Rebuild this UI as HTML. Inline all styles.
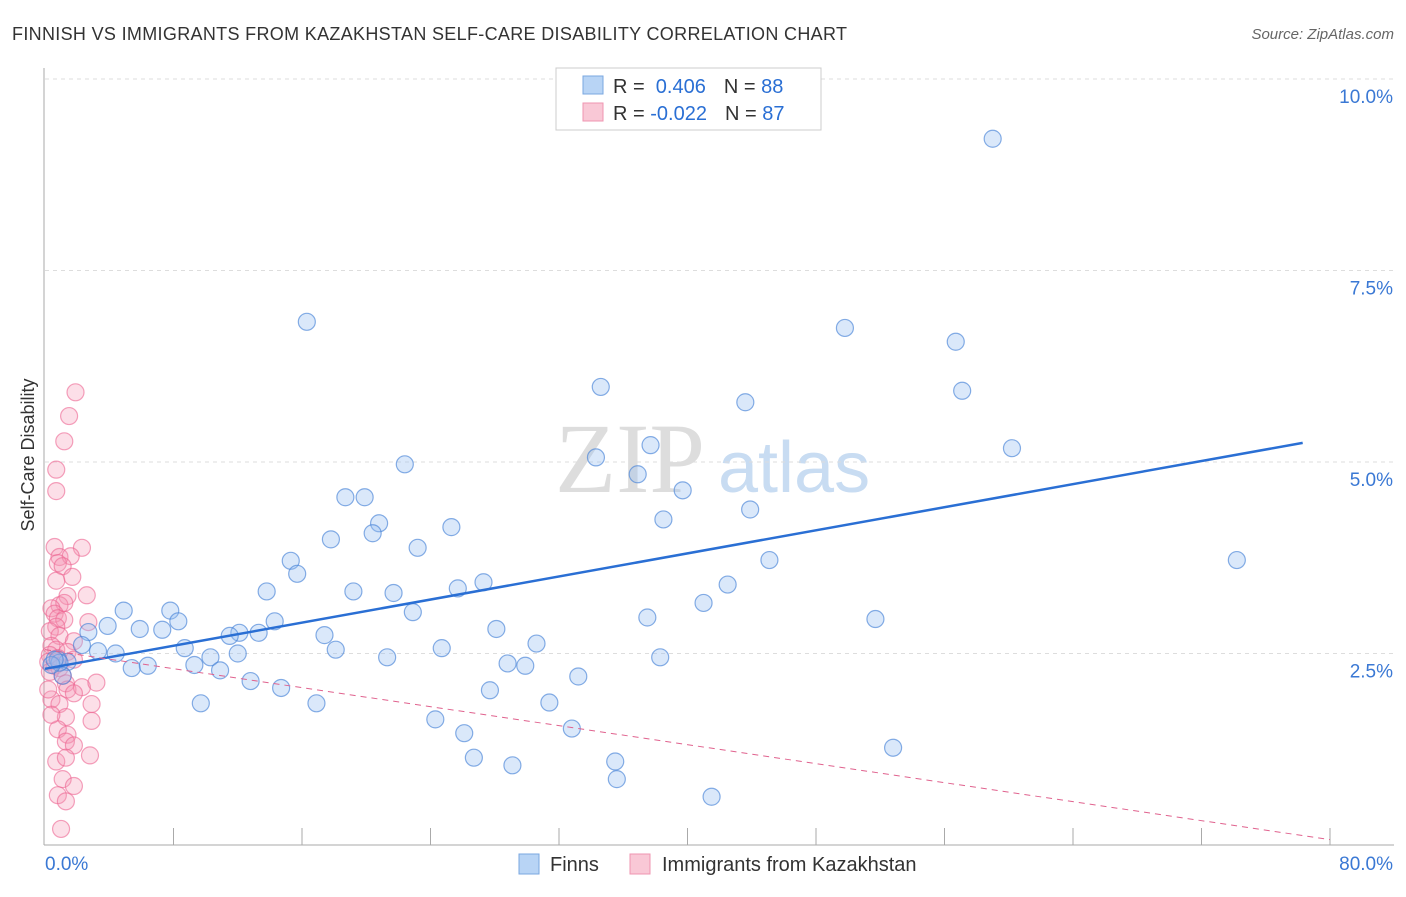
<!DOCTYPE html>
<html><head><meta charset="utf-8"><style>
body{margin:0;background:#fff;font-family:"Liberation Sans",sans-serif;}
</style></head><body>
<svg id="c" width="1406" height="892" xmlns="http://www.w3.org/2000/svg" style="font-family:'Liberation Sans',sans-serif">
<text x="12" y="40" font-size="18" fill="#333" textLength="835" lengthAdjust="spacing">FINNISH VS IMMIGRANTS FROM KAZAKHSTAN SELF-CARE DISABILITY CORRELATION CHART</text>
<text x="1394" y="39" font-size="15" fill="#666" font-style="italic" text-anchor="end">Source: ZipAtlas.com</text>
<text x="34" y="455" font-size="18" fill="#333" text-anchor="middle" transform="rotate(-90 34 455)">Self-Care Disability</text>
<g><text x="555" y="492" font-size="100" fill="#ddd" font-family="Liberation Serif">ZIP</text><text x="718" y="492" font-size="72" fill="#c8dcf2">atlas</text></g>
<g id="grid"></g><g id="axes"></g><g id="pts"></g><g id="trend"></g>
<g>
<rect x="556" y="68" width="265" height="62" fill="#fff" stroke="#ccc"/>
<rect x="583" y="76" width="20" height="18" fill="#b8d4f5" stroke="#7aa7e0"/>
<rect x="583" y="103" width="20" height="18" fill="#f9c8d6" stroke="#ef95b0"/>
<text x="613" y="93" font-size="20" fill="#333">R = <tspan fill="#2a6fd4">&#160;0.406</tspan><tspan dx="18">N = </tspan><tspan fill="#2a6fd4">88</tspan></text>
<text x="613" y="120" font-size="20" fill="#333">R = <tspan fill="#2a6fd4">-0.022</tspan><tspan dx="18">N = </tspan><tspan fill="#2a6fd4">87</tspan></text>
</g>
<g>
<rect x="519" y="854" width="20" height="20" fill="#b8d4f5" stroke="#7aa7e0"/>
<text x="550" y="871" font-size="20" fill="#333">Finns</text>
<rect x="630" y="854" width="20" height="20" fill="#f9c8d6" stroke="#ef95b0"/>
<text x="662" y="871" font-size="20" fill="#333">Immigrants from Kazakhstan</text>
</g>
</svg>
<script>
const yTicks=[2.5,5,7.5,10];
const yTickLabels=["2.5%","5.0%","7.5%","10.0%"];
const xTickCount=10;
const finnsX=[16.3,59,49.8,56.7,57.1,34.6,43.6,60.2,22.4,34.3,37.7,36.9,39.7,18.7,19.9,43.9,38.5,20.8,25.3,20.4,17.8,23.2,15.3,45.1,74.2,15.7,27.3,25.7,42.5,13.8,19.2,21.7,41,4.9,7.8,22.9,37.5,8.3,14.3,51.7,3.9,5.9,7.3,2.7,12.1,11.5,17.4,28.1,13.3,30.6,8.7,24.7,18.1,2.3,3.3,4.4,12,10.3,21.3,38.3,1.4,5.4,6.4,9.3,10.9,28.8,29.9,33.2,12.8,14.7,27.7,9.7,16.9,31.4,24.3,32.8,26.1,52.8,26.7,29.1,35.5,35.6,41.5,0.8,1.1,0.9,0.4,0.6];
const finnsY=[6.83,9.22,6.75,6.57,5.93,5.98,5.78,5.18,4.97,5.06,5.22,4.84,4.63,4.54,4.54,4.38,4.25,4.2,4.15,4.07,3.99,3.88,3.71,3.72,3.72,3.54,3.43,3.35,3.4,3.31,3.31,3.29,3.16,3.06,3.06,3.04,2.97,2.92,2.92,2.95,2.86,2.82,2.81,2.78,2.77,2.73,2.74,2.82,2.77,2.63,2.57,2.57,2.55,2.61,2.53,2.5,2.5,2.45,2.45,2.45,2.39,2.31,2.34,2.35,2.28,2.37,2.34,2.2,2.14,2.05,2.02,1.85,1.85,1.86,1.64,1.52,1.46,1.27,1.14,1.04,1.09,0.86,0.63,2.42,2.21,2.38,2.35,2.42];
const kazX=[1.9,1.5,1.2,0.7,0.7,0.6,2.3,0.9,1.6,0.8,1.1,1.7,0.7,2.6,1.4,0.9,1.2,0.4,0.6,2.7,0.8,1.2,0.7,0.3,0.9,1.8,0.4,0.7,1.4,0.3,0.8,0.2,0.6,0.9,1.8,0.3,1.1,1.3,1.4,2.3,3.2,1.8,0.4,0.9,2.9,1.3,2.9,0.8,1.4,1.3,1.8,2.8,0.7,1.3,1.1,1.8,0.8,1.3,1,0.2,0.4];
const kazY=[5.91,5.6,5.27,4.9,4.62,3.89,3.88,3.76,3.77,3.68,3.64,3.5,3.45,3.26,3.25,3.13,3.16,3.09,3.02,2.91,2.96,2.94,2.85,2.79,2.73,2.66,2.6,2.55,2.52,2.48,2.44,2.39,2.34,2.31,2.42,2.26,2.21,2.11,2.03,2.06,2.12,1.98,1.9,1.84,1.84,1.67,1.62,1.51,1.44,1.35,1.3,1.17,1.09,1.14,0.86,0.77,0.65,0.57,0.21,2.03,1.7];
const finnsTrend=[[0,2.3],[78.3,5.25]];
const kazTrend=[[0,2.55],[80,0.07]];
const NS='http://www.w3.org/2000/svg';
const X=v=>45+v*(1285/80), Y=v=>845-v*76.6;
function mk(t,a,p){const e=document.createElementNS(NS,t);for(const k in a)e.setAttribute(k,a[k]);p.appendChild(e);return e;}
const grid=document.getElementById('grid'),axes=document.getElementById('axes'),pts=document.getElementById('pts'),tr=document.getElementById('trend');
yTicks.forEach((t,i)=>{
 const l=mk('line',{x1:45,x2:1394,y1:Y(t),y2:Y(t),stroke:'#ddd','stroke-dasharray':'4,4'},grid);
 
 
 const tx=mk('text',{x:1393,y:Y(t)+24,'font-size':19,fill:'#3a78d4','text-anchor':'end'},grid);
 tx.textContent=yTickLabels[i];
 
 
});
let a=mk('line',{x1:44,x2:44,y1:68,y2:845,stroke:'#aaa'},axes);


a=mk('line',{x1:44,x2:1394,y1:845,y2:845,stroke:'#aaa'},axes);


for(let i=1;i<=xTickCount;i++){const xx=X(i*8);const t=mk('line',{x1:xx,x2:xx,y1:828,y2:845,stroke:'#aaa'},axes);
 
 }
let t0=mk('text',{x:45,y:870,'font-size':19,fill:'#3a78d4'},axes);t0.textContent='0.0%';


t0=mk('text',{x:1393,y:870,'font-size':19,fill:'#3a78d4','text-anchor':'end'},axes);t0.textContent='80.0%';


kazX.forEach((v,i)=>{const c=mk('circle',{cx:X(v),cy:Y(kazY[i]),r:8.5,fill:'rgba(244,150,180,0.3)',stroke:'rgba(236,100,145,0.6)','stroke-width':1.2},pts);
 
 });
finnsX.forEach((v,i)=>{const c=mk('circle',{cx:X(v),cy:Y(finnsY[i]),r:8.5,fill:'rgba(150,190,240,0.35)',stroke:'rgba(70,130,215,0.65)','stroke-width':1.2},pts);
 
 });
let l=mk('line',{x1:X(finnsTrend[0][0]),y1:Y(finnsTrend[0][1]),x2:X(finnsTrend[1][0]),y2:Y(finnsTrend[1][1]),stroke:'#2a6fd4','stroke-width':2.5},tr);


l=mk('line',{x1:X(kazTrend[0][0]),y1:Y(kazTrend[0][1]),x2:X(kazTrend[1][0]),y2:Y(kazTrend[1][1]),stroke:'#e0628e','stroke-width':1,'stroke-dasharray':'6,5'},tr);


</script>
</body></html>
